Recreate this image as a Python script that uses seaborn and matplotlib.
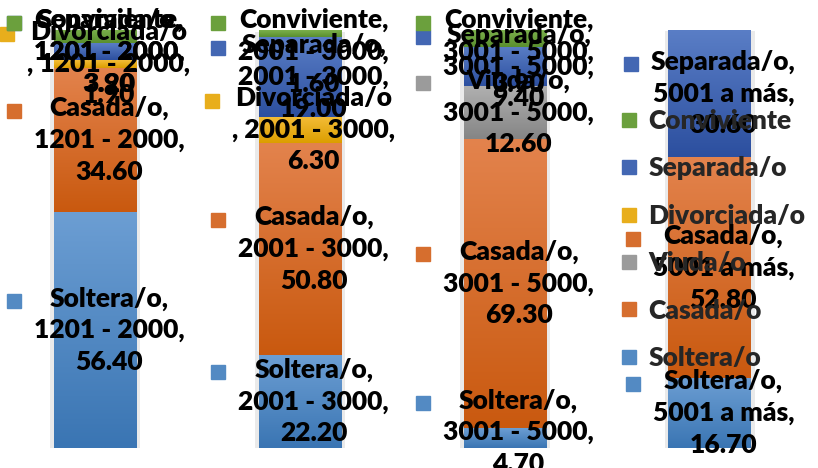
import numpy as np
import matplotlib
matplotlib.use("Agg")
import matplotlib.pyplot as plt
import matplotlib.patheffects as pe
from matplotlib.lines import Line2D
from matplotlib.colors import to_rgb
import seaborn as sns

# Income brackets (x categories)
incomes = ["1201 - 2000", "2001 - 3000", "3001 - 5000", "5001 a más"]

# Marital status shares (%) per bracket, stacked bottom to top
soltera = [56.40, 22.20, 4.70, 16.70]
casada = [34.60, 50.80, 69.30, 52.80]
viuda = [0.00, 0.00, 12.60, 0.00]
divorciada = [1.90, 6.30, 0.00, 0.00]
separada = [3.90, 19.00, 9.40, 30.60]
conviviente = [3.20, 1.60, 3.90, 0.00]

series_names = ["Soltera/o", "Casada/o", "Viuda/o", "Divorciada/o", "Separada/o", "Conviviente"]
series_values = [soltera, casada, viuda, divorciada, separada, conviviente]

# (light top, dark bottom) gradient for each series
palette = {
    "Soltera/o": ("#6c9ed3", "#3a75b3"),
    "Casada/o": ("#e3834d", "#c9590f"),
    "Viuda/o": ("#b0b0b0", "#858585"),
    "Divorciada/o": ("#f4bd38", "#dc9e00"),
    "Separada/o": ("#5a7ec6", "#2c4f9f"),
    "Conviviente": ("#7bb04c", "#5a8f2e"),
}
key_colors = {k: tuple((np.array(to_rgb(a)) + np.array(to_rgb(b))) / 2) for k, (a, b) in palette.items()}

FS = 19
WEIGHT = "heavy"
sns.set_theme(style="white")
plt.rcParams["font.family"] = ["Lato", "DejaVu Sans"]

W, H = 818, 468
fig = plt.figure(figsize=(W / 100, H / 100), dpi=100)
ax = fig.add_axes([0.004, 20 / H, 0.9765, 418 / H])

cum = np.zeros(len(incomes))
segments = []
for name, vals in zip(series_names, series_values):
    vals = np.asarray(vals, dtype=float)
    n_before = len(ax.patches)
    sns.barplot(x=incomes, y=vals, bottom=cum.copy(), order=incomes, color=key_colors[name],
                saturation=1, width=0.405, errorbar=None, linewidth=0, ax=ax)
    for i, p in enumerate(ax.patches[n_before:]):
        segments.append((name, i, vals[i], p))
    cum += vals

ax.set_xlim(-0.45, 3.45)
ax.set_ylim(0, 100)
ax.axis("off")

# vertical gradient fill clipped to each bar segment, with a soft side shadow
grad = np.linspace(0, 1, 128)[:, None, None]
for name, i, v, p in segments:
    if v <= 0:
        p.set_visible(False)
        continue
    top, bot = (np.array(to_rgb(c)) for c in palette[name])
    img = (1 - grad) * top + grad * bot
    x0, y0, w, h = p.get_x(), p.get_y(), p.get_width(), p.get_height()
    im = ax.imshow(img, extent=[x0, x0 + w, y0, y0 + h], origin="upper", aspect="auto",
                   interpolation="bilinear", zorder=p.get_zorder() + 0.01)
    im.set_clip_path(p)
    p.set_path_effects([
        pe.SimplePatchShadow(offset=(2.5, -1), shadow_rgbFace="k", alpha=0.09),
        pe.SimplePatchShadow(offset=(-2.5, -1), shadow_rgbFace="k", alpha=0.09),
        pe.Normal(),
    ])
ax.set_xlim(-0.45, 3.45)
ax.set_ylim(0, 100)

# data labels with legend keys
KEY_PX = 14
GAP_PX = 13
texts = []
for name, i, v, p in segments:
    if v <= 0:
        continue
    if len(name) > 11:
        label = f"{name}\n, {incomes[i]},\n{v:.2f}"
    else:
        label = f"{name},\n{incomes[i]},\n{v:.2f}"
    ymid = p.get_y() + p.get_height() / 2
    t = ax.annotate(label, xy=(i, ymid), xytext=((KEY_PX + GAP_PX) / 2 * 0.72, 0),
                    textcoords="offset points", ha="center", va="center", fontsize=FS,
                    fontweight=WEIGHT, color="black", linespacing=1.38,
                    annotation_clip=False, zorder=10)
    texts.append((name, t))

fig.canvas.draw()
renderer = fig.canvas.get_renderer()
for name, t in texts:
    bb = t.get_window_extent(renderer)
    shift = 0.0
    if bb.y1 > H - 8:
        shift = (H - 8) - bb.y1
    elif bb.y0 < -8:
        shift = -8 - bb.y0
    if shift:
        ox, oy = t.xyann
        t.xyann = (ox, oy + shift * 0.72)
    bb = t.get_window_extent(renderer)
    line_h = bb.height / 3
    kx = bb.x0 - GAP_PX - KEY_PX / 2
    ky = bb.y1 - line_h / 2
    fx, fy = fig.transFigure.inverted().transform((kx, ky))
    fig.add_artist(Line2D([fx], [fy], marker="s", markersize=KEY_PX * 0.72, linestyle="",
                          color=key_colors[name], transform=fig.transFigure, zorder=9))

handles = [Line2D([], [], marker="s", linestyle="", markersize=KEY_PX * 0.72, color=key_colors[n])
           for n in series_names[::-1]]
leg = fig.legend(handles, series_names[::-1], loc="center left",
                 bbox_to_anchor=(618 / W, 1 - 239.5 / H), frameon=False,
                 prop={"size": FS, "weight": WEIGHT}, handlelength=0.8, handletextpad=0.35,
                 labelspacing=0.89, borderpad=0, borderaxespad=0)
leg.set_zorder(8)

fig.savefig("out.png", dpi=100)
